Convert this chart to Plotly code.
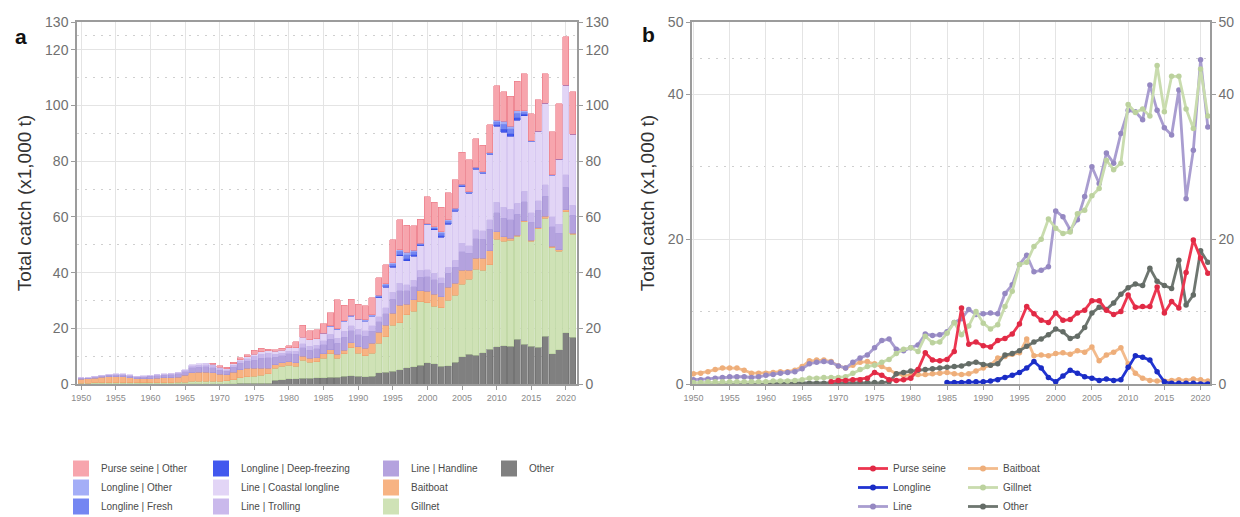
import plotly.graph_objects as go

# ---------------------------------------------------------------------------
# Annual catch by gear type, 1950-2021 (x1,000 t)
# ---------------------------------------------------------------------------
years = list(range(1950, 2022))

other = [0.1, 0.1, 0.1, 0.1, 0.1, 0.1, 0.1, 0.1, 0.1, 0.1,
         0.1, 0.1, 0.1, 0.1, 0.1, 0.1, 0.1, 0.1, 0.1, 0.1,
         0.1, 0.1, 0.1, 0.2, 0.2, 0.2, 0.2, 0.3, 1.4, 1.6,
         1.8, 1.9, 2.0, 2.1, 2.2, 2.3, 2.4, 2.5, 2.8, 3.0,
         2.7, 2.6, 2.8, 4.0, 4.2, 4.6, 5.2, 5.8, 6.2, 6.8,
         7.6, 7.2, 6.3, 6.6, 7.8, 9.8, 10.6, 10.3, 11.2, 12.4,
         13.3, 13.8, 13.6, 16.0, 14.2, 13.6, 13.2, 17.1, 10.9, 12.3,
         18.4, 16.8]

gillnet = [0.2, 0.2, 0.3, 0.3, 0.3, 0.3, 0.3, 0.3, 0.3, 0.3,
           0.3, 0.4, 0.4, 0.4, 0.5, 0.6, 0.8, 0.8, 0.9, 0.9,
           0.9, 1.0, 1.5, 2.0, 2.4, 2.6, 3.0, 3.4, 4.2, 4.8,
           5.0, 4.5, 6.6, 5.7, 5.8, 7.0, 8.5, 6.8, 8.0, 10.0,
           8.4, 7.6, 8.2, 10.7, 12.8, 16.5, 16.8, 19.0, 20.0, 22.8,
           21.5, 20.8, 21.0, 23.5, 24.0, 26.0, 27.0, 30.9, 29.6, 30.5,
           38.6, 37.5, 38.0, 37.0, 44.0, 37.6, 42.5, 42.5, 38.0, 35.3,
           43.5, 37.0]

baitboat = [1.4, 1.5, 1.7, 2.0, 2.2, 2.2, 2.2, 1.9, 1.5, 1.5,
            1.5, 1.6, 1.7, 1.7, 1.9, 2.4, 3.2, 3.3, 3.3, 3.1,
            2.5, 2.2, 2.6, 3.0, 3.1, 2.8, 2.4, 2.0, 1.4, 1.2,
            1.2, 1.3, 1.3, 1.4, 1.5, 1.6, 1.4, 1.3, 1.4, 1.8,
            2.2, 2.6, 3.6, 3.8, 4.1, 4.3, 6.2, 3.9, 4.0, 3.9,
            4.2, 4.3, 4.1, 4.6, 4.4, 5.1, 3.2, 4.0, 4.4, 5.0,
            2.8, 1.5, 0.8, 0.5, 0.4, 0.4, 0.5, 0.6, 0.5, 0.7,
            0.6, 0.4]

line_handline = [0.4, 0.4, 0.5, 0.6, 0.6, 0.7, 0.7, 0.7, 0.6, 0.7,
                 0.8, 0.9, 1.0, 1.1, 1.2, 1.3, 1.7, 1.8, 1.9, 1.8,
                 1.5, 1.3, 1.8, 2.2, 2.4, 3.0, 3.6, 3.7, 2.6, 2.5,
                 2.8, 3.0, 3.1, 3.0, 3.1, 3.2, 3.8, 4.1, 4.6, 4.3,
                 4.4, 4.4, 4.4, 3.8, 4.1, 5.0, 5.3, 4.7, 4.7, 4.9,
                 5.3, 5.1, 4.7, 5.0, 5.7, 6.6, 6.1, 7.0, 6.7, 7.6,
                 6.8, 6.8, 6.6, 7.4, 6.8, 6.4, 6.2, 7.3, 7.0, 5.8,
                 8.1, 6.4]

line_trolling = [0.1, 0.1, 0.1, 0.1, 0.2, 0.2, 0.2, 0.2, 0.2, 0.2,
                 0.3, 0.3, 0.3, 0.3, 0.3, 0.5, 0.7, 0.8, 0.8, 0.8,
                 0.6, 0.6, 0.8, 0.9, 1.0, 1.3, 1.5, 1.6, 1.0, 0.9,
                 1.0, 1.1, 1.4, 1.3, 1.4, 1.4, 1.7, 1.8, 2.1, 1.9,
                 1.9, 2.0, 1.9, 1.9, 2.1, 2.5, 2.7, 2.3, 2.4, 2.4,
                 2.4, 2.3, 2.1, 2.3, 2.6, 3.0, 2.8, 3.2, 3.1, 3.5,
                 3.8, 3.8, 3.7, 4.1, 3.8, 3.5, 3.4, 4.1, 3.6, 3.2,
                 4.5, 3.6]

line_coastal = [0.1, 0.1, 0.1, 0.1, 0.1, 0.1, 0.1, 0.1, 0.1, 0.1,
                0.1, 0.1, 0.2, 0.2, 0.2, 0.3, 0.4, 0.4, 0.4, 0.4,
                0.4, 0.3, 0.4, 0.5, 0.6, 0.7, 0.9, 0.9, 1.2, 1.2,
                1.2, 1.3, 2.4, 2.4, 2.3, 2.6, 3.0, 3.1, 3.6, 3.4,
                3.4, 3.4, 3.4, 6.8, 7.5, 9.0, 9.8, 8.5, 8.6, 8.9,
                16.2, 15.7, 14.5, 15.4, 17.6, 20.4, 18.8, 21.7, 20.7, 23.5,
                27.2, 27.0, 26.2, 29.8, 27.2, 25.5, 24.8, 29.2, 15.0, 23.3,
                32.2, 25.5]

_n = None
longline_deep = [_n] * 35 + [
    _n, _n, _n, _n, _n,
    _n, _n, _n, 0.1, 0.2, 0.3, 0.5, 0.8, 0.5, 0.2,
    0.1, 0.3, 0.5, 0.4, 0.2, 0.2, 0.1, 0.2, 0.1, 0.1,
    0.6, 1.0, 0.9, 0.8, 0.4, 0.1, _n, _n, _n, _n,
    _n, _n]

longline_fresh = [_n] * 35 + [
    0.1, 0.1, 0.1, 0.2, 0.2,
    0.2, 0.2, 0.3, 0.5, 0.6, 0.8, 1.1, 1.5, 1.1, 0.4,
    0.1, 0.5, 0.9, 0.7, 0.5, 0.4, 0.3, 0.3, 0.3, 0.3,
    1.1, 1.9, 1.8, 1.6, 0.8, 0.1, 0.1, 0.1, 0.1, 0.1,
    0.0, 0.0]

longline_other = [_n] * 35 + [
    0.1, 0.1, 0.1, 0.1, 0.1,
    0.1, 0.2, 0.3, 0.3, 0.4, 0.5, 0.6, 0.8, 0.6, 0.3,
    0.1, 0.3, 0.5, 0.4, 0.3, 0.2, 0.1, 0.2, 0.1, 0.2,
    0.6, 1.0, 1.0, 0.9, 0.5, 0.1, _n, _n, _n, _n,
    _n, _n]

purse_seine_other = [_n] * 19 + [
    0.3,
    0.5, 0.5, 0.6, 0.6, 0.8, 1.6, 1.2, 0.6, 0.5, 0.6,
    0.8, 2.0, 4.3, 3.3, 3.2, 3.4, 4.5, 10.5, 5.5, 5.8,
    5.3, 5.1, 6.0, 6.3, 6.9, 8.3, 10.7, 9.7, 8.8, 8.5,
    9.8, 8.8, 8.9, 9.8, 10.2, 11.5, 11.5, 10.2, 9.6, 10.0,
    12.3, 10.6, 10.7, 10.7, 13.4, 9.8, 11.4, 10.5, 15.4, 19.9,
    17.4, 15.3]

x_ticks = list(range(1950, 2021, 5))
y_ticks_a = [0, 20, 40, 60, 80, 100, 120, 130]
y_minor_a = [10, 30, 50, 70, 90, 110, 125]
y_ticks_b = [0, 20, 40, 50]
y_minor_b = [10, 30, 45]


def gear_total(*parts):
    """Sum sub-gear series year by year; years with no record stay empty."""
    out = []
    for vals in zip(*parts):
        present = [v for v in vals if v is not None]
        out.append(round(sum(present), 2) if present else None)
    return out


FONT = "Liberation Sans, Arial, sans-serif"

# (name, values, fill, edge) in stacking order, bottom to top
stack = [
    ("Other", other, "#808080", "#6c6c6c"),
    ("Gillnet", gillnet, "#cfe2b6", "#b9d49c"),
    ("Baitboat", baitboat, "#f7b383", "#eb9f6b"),
    ("Line | Handline", line_handline, "#b4a2de", "#a28fd3"),
    ("Line | Trolling", line_trolling, "#cab9ec", "#b8a6e3"),
    ("Line | Coastal longline", line_coastal, "#e2d5f6", "#d0c0ee"),
    ("Longline | Deep-freezing", longline_deep, "#4258ee", "#2f45dd"),
    ("Longline | Fresh", longline_fresh, "#7486f2", "#5d70e8"),
    ("Longline | Other", longline_other, "#a4aef7", "#8d99f0"),
    ("Purse seine | Other", purse_seine_other, "#f7a5ad", "#ea7683"),
]
style_a = {name: (fill, edge) for name, _, fill, edge in stack}

fig = go.Figure()

for name, vals, fill, edge in stack:
    fig.add_trace(go.Bar(
        x=years, y=vals, name=name, xaxis="x", yaxis="y",
        marker=dict(color=fill, line=dict(color=edge, width=0.6)),
        showlegend=False,
    ))

# Right-hand value axes (mirrors of the left ones)
fig.add_trace(go.Scatter(x=[None], y=[None], xaxis="x", yaxis="y3",
                         showlegend=False, hoverinfo="skip"))
fig.add_trace(go.Scatter(x=[None], y=[None], xaxis="x2", yaxis="y4",
                         showlegend=False, hoverinfo="skip"))

# Panel b: totals per main gear
purse_seine = gear_total(purse_seine_other)
longline = gear_total(longline_deep, longline_fresh, longline_other)
line_gear = gear_total(line_handline, line_trolling, line_coastal)

lines_b = [
    ("Baitboat", baitboat, "#f3bb8c", "#eeae7a"),
    ("Other", other, "#6e7670", "#646c66"),
    ("Line", line_gear, "#a99dd0", "#9588c2"),
    ("Gillnet", gillnet, "#c9dcae", "#bcd29e"),
    ("Longline", longline, "#2134d2", "#1a2cc4"),
    ("Purse seine", purse_seine, "#ec3650", "#e02a45"),
]
style_b = {name: (lc, mc) for name, _, lc, mc in lines_b}

for name, vals, lc, mc in lines_b:
    fig.add_trace(go.Scatter(
        x=years, y=vals, name=name, xaxis="x2", yaxis="y2",
        mode="lines+markers",
        line=dict(color=lc, width=2.8),
        marker=dict(color=mc, size=5.5),
        showlegend=False, connectgaps=False,
    ))

# Legend entries, laid out column by column
legend_cols_a = [
    ("legend", ["Purse seine | Other", "Longline | Other", "Longline | Fresh"]),
    ("legend2", ["Longline | Deep-freezing", "Line | Coastal longline", "Line | Trolling"]),
    ("legend3", ["Line | Handline", "Baitboat", "Gillnet"]),
    ("legend4", ["Other"]),
]
for leg, names in legend_cols_a:
    for name in names:
        fill, edge = style_a[name]
        fig.add_trace(go.Scatter(
            x=[None], y=[None], name=name, xaxis="x", yaxis="y",
            mode="markers", legend=leg,
            marker=dict(symbol="square", size=16, color=fill,
                        line=dict(color=fill, width=0)),
        ))

legend_cols_b = [
    ("legend5", ["Purse seine", "Longline", "Line"]),
    ("legend6", ["Baitboat", "Gillnet", "Other"]),
]
for leg, names in legend_cols_b:
    for name in names:
        lc, mc = style_b[name]
        fig.add_trace(go.Scatter(
            x=[None], y=[None], name=name, xaxis="x2", yaxis="y2",
            mode="lines+markers", legend=leg,
            line=dict(color=lc, width=2.8),
            marker=dict(color=mc, size=6),
        ))

AXIS_LINE = "#9c9c9c"
GRID = "#e4e4e4"
DOT_GRID = dict(showgrid=True, gridcolor="#cfcfcf", griddash="2px,6px",
                gridwidth=1, ticks="")


def x_axis(domain, anchor, rng):
    return dict(
        domain=domain, anchor=anchor, range=rng, automargin=False,
        tickmode="array", tickvals=x_ticks,
        showgrid=True, gridcolor=GRID, gridwidth=1,
        showline=True, linecolor=AXIS_LINE, linewidth=1.5, mirror=True,
        ticks="outside", ticklen=4, tickcolor=AXIS_LINE, tickwidth=1.2,
        tickfont=dict(family=FONT, size=9, color="#8a8a8a"),
        zeroline=False, fixedrange=True,
    )


def y_axis(domain, anchor, rng, ticks, minor, side="left", overlay=None):
    ax = dict(
        domain=domain, anchor=anchor, range=rng, side=side, automargin=False,
        tickmode="array", tickvals=ticks,
        showline=True, linecolor=AXIS_LINE, linewidth=1.5,
        ticks="outside", ticklen=4, tickcolor=AXIS_LINE, tickwidth=1.2,
        tickfont=dict(family=FONT, size=14, color="#707070"),
        zeroline=False, fixedrange=True,
    )
    if overlay:
        ax.update(overlaying=overlay, showgrid=False)
    else:
        ax.update(showgrid=True, gridcolor=GRID, gridwidth=1,
                  minor=dict(tickmode="array", tickvals=minor, **DOT_GRID),
                  title=dict(text="Total catch (x1,000 t)", standoff=8,
                             font=dict(family=FONT, size=19, color="#333333")))
    return ax


ydom = [1 - 384 / 517, 1 - 22 / 517]
xdom_a = [77 / 1240, 577 / 1240]
xdom_b = [692 / 1240, 1210 / 1240]


def legend_box(x_px, y_px):
    return dict(
        x=x_px / 1240, y=1 - y_px / 517, xanchor="left", yanchor="top",
        bgcolor="rgba(0,0,0,0)", borderwidth=0, tracegroupgap=0,
        traceorder="normal",
        font=dict(family=FONT, size=10, color="#4a4a4a"),
        itemclick=False, itemdoubleclick=False,
    )


fig.update_layout(
    width=1240, height=517,
    margin=dict(l=0, r=0, t=0, b=0, autoexpand=False),
    paper_bgcolor="white", plot_bgcolor="white",
    font=dict(family=FONT),
    barmode="stack", bargap=0.12,
    xaxis=x_axis(xdom_a, "y", [1949.4, 2021.6]),
    yaxis=y_axis(ydom, "x", [0, 130], y_ticks_a, y_minor_a),
    yaxis3=y_axis(ydom, "x", [0, 130], y_ticks_a, y_minor_a,
                  side="right", overlay="y"),
    xaxis2=x_axis(xdom_b, "y2", [1949.8, 2021.3]),
    yaxis2=y_axis(ydom, "x2", [0, 50], y_ticks_b, y_minor_b),
    yaxis4=y_axis(ydom, "x2", [0, 50], y_ticks_b, y_minor_b,
                  side="right", overlay="y2"),
    legend=legend_box(61, 454),
    legend2=legend_box(201, 454),
    legend3=legend_box(371, 454),
    legend4=legend_box(489, 454),
    legend5=legend_box(853, 454),
    legend6=legend_box(963, 454),
    annotations=[
        dict(text="<b>a</b>", x=21 / 1240, y=1 - 36 / 517, xref="paper",
             yref="paper", xanchor="center", yanchor="middle",
             showarrow=False,
             font=dict(family=FONT, size=21, color="#111111")),
        dict(text="<b>b</b>", x=648 / 1240, y=1 - 34 / 517, xref="paper",
             yref="paper", xanchor="center", yanchor="middle",
             showarrow=False,
             font=dict(family=FONT, size=21, color="#111111")),
    ],
)

fig.write_html("out.html")
